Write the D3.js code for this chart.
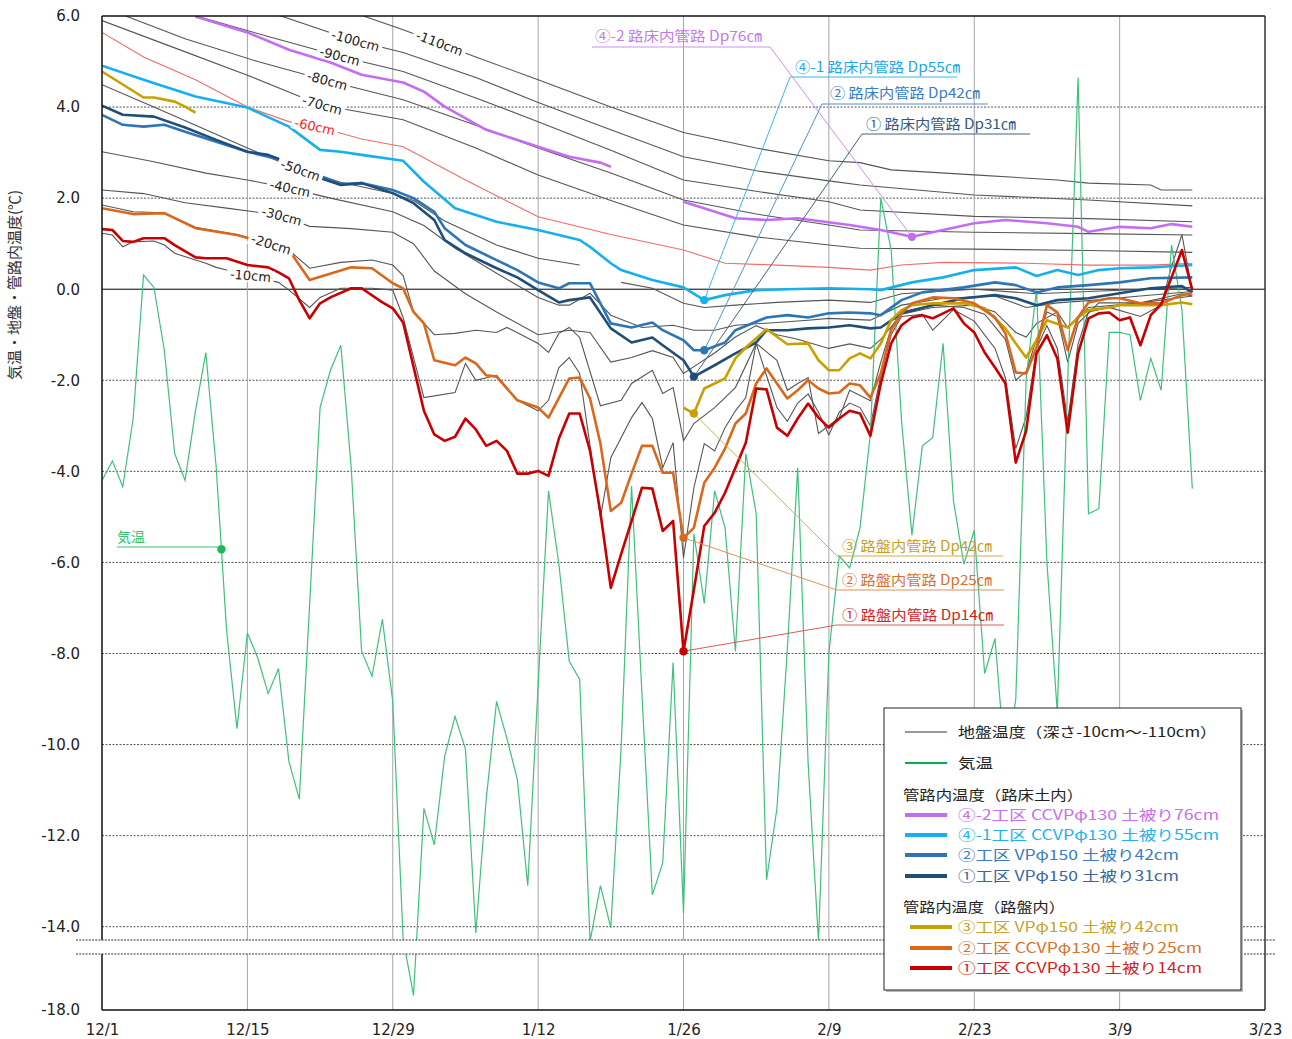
<!DOCTYPE html>
<html><head><meta charset="utf-8">
<script src="https://cdn.jsdelivr.net/npm/d3@7"></script>
<style>
body{margin:0;background:#fff;}
svg{display:block;}
</style></head><body>
<svg id="chart" width="1292" height="1039"></svg>
<script>
// ---- data -------------------------------------------------------------
const startYear = 2018;                       // season starts 1 Dec
const xTickLabels = ["12/1","12/15","12/29","1/12","1/26","2/9","2/23","3/9","3/23"];
const yTickValues = [6,4,2,0,-2,-4,-6,-8,-10,-12,-14,-18];
const yTickLabels = ["6.0","4.0","2.0","0.0","-2.0","-4.0","-6.0","-8.0","-10.0","-12.0","-14.0","-18.0"];

// daily mean air temperature from 12/1 (℃)
const airTemp = [-4.2,-3.77,-4.34,-2.84,0.31,0.04,-1.34,-3.61,-4.2,-2.67,
  -1.39,-3.92,-7.5,-9.65,-7.55,-8.1,-8.88,-8.33,-10.37,-11.2,
  -6.9,-2.6,-1.78,-1.23,-3.92,-7.95,-8.5,-7.25,-9.05,-14.6,
  -17.3,-11.4,-12.2,-10.26,-9.38,-10.1,-14.3,-11.2,-9.05,-9.87,
  -10.77,-13.1,-8.7,-4.43,-6.04,-8.17,-8.57,-14.7,-13.1,-14.05,
  -10.04,-4.32,-8.9,-13.3,-12.6,-8.2,-13.7,-5.37,-6.9,-4.43,
  -5.24,-7.95,-3.61,-4.93,-12.97,-11.4,-7.9,-3.92,-10.4,-14.7,
  -8.0,-5.86,-6.12,-5.24,-3.17,2.0,0.86,-2.9,-5.4,-3.44,
  -3.26,-1.19,-4.65,-6.04,-5.3,-8.44,-7.67,-10.5,-9.0,-1.96,
  0.0,-6.0,-9.3,-2.0,4.65,-4.93,-4.82,-0.95,-0.95,-1.0,
  -2.44,-1.52,-2.22,0.97,-0.46,-4.38];

// ground temperature by depth: [day from 12/1, ℃]; null = missing
const ground10 = [[0,1.23],[1,1.19],[2,0.93],[3,1.04],[5,1.06],[6,0.97],[7,0.79],[9,0.64],[10,0.57],[11,0.48],[12,0.42],[17,0.15],[18,-0.02],[20,-0.4],[21,-0.18],[23,0.02],[26,0.02],[28,-0.02],[29,-0.62],[31,-2.38],[34,-2.27],[35,-1.63],[36,-2.0],[38,-1.89],[40,-2.44],[42,-2.67],[43,-2.44],[44,-1.72],[45,-1.5],[46,-1.85],[48,-5.02],[49,-3.7],[51,-2.82],[52,-2.49],[53,-2.84],[54,-3.92],[55,-3.37],[56,-5.9],[57,-4.36],[58,-3.39],[59,-3.55],[60,-3.04],[61,-2.67],[62,-2.38],[63,-1.19],[64,-1.9],[65,-2.6],[66,-2.9],[67,-2.5],[68,-2.3],[69,-2.7],[70,-3.2],[71,-2.7],[72,-2.5],[73,-2.6],[74,-3.0],[75,-1.9],[76,-1.0],[77,-0.6],[79,-0.55],[80,-0.9],[82,-0.45],[84,-0.7],[86,-1.3],[87,-1.95],[88,-3.5],[89,-2.8],[90,-1.3],[91,-0.8],[92,-1.3],[93,-2.9],[94,-1.2],[95,-0.5],[97,-0.4],[100,-0.6],[102,-0.35],[103,0.5],[104,1.2],[105,-0.05]];
const ground20 = [[0,1.85],[3,1.7],[6,1.68],[9,1.36],[13,1.2],[15,1.08],[18,0.86],[20,0.46],[23,0.59],[26,0.64],[28,0.53],[29,0.3],[30,-0.5],[32,-1.0],[34,-0.97],[36,-0.9],[38,-0.95],[39,-0.84],[42,-1.19],[43,-1.39],[44,-0.97],[45,-0.84],[46,-1.06],[48,-2.56],[50,-2.44],[51,-2.07],[53,-1.78],[54,-2.29],[55,-2.16],[56,-3.33],[57,-2.95],[59,-2.6],[61,-2.16],[63,-1.19],[65,-1.56],[66,-2.22],[67,-2.07],[68,-1.94],[69,-3.17],[71,-2.82],[72,-2.22],[74,-2.45],[75,-1.6],[76,-0.85],[77,-0.5],[80,-0.35],[83,-0.4],[85,-0.55],[87,-1.1],[88,-2.0],[89,-1.8],[90,-1.1],[91,-0.5],[92,-0.6],[93,-1.6],[94,-0.75],[96,-0.3],[100,-0.3],[104,-0.1],[105,-0.15]];
const ground30 = [[0,2.18],[4,2.1],[8,1.9],[12,1.78],[17,1.63],[20,1.38],[24,1.33],[28,1.25],[30,1.0],[32,0.4],[35,-0.1],[38,-0.5],[42,-1.0],[45,-0.9],[47,-0.95],[49,-1.6],[51,-1.5],[53,-1.35],[55,-1.5],[56,-1.85],[57,-1.7],[59,-1.4],[61,-1.05],[63,-0.8],[65,-1.0],[67,-1.1],[70,-1.3],[72,-1.2],[74,-1.3],[75,-1.1],[77,-0.55],[80,-0.4],[84,-0.35],[86,-0.5],[88,-0.95],[89,-1.05],[90,-0.75],[92,-0.5],[93,-0.85],[95,-0.4],[100,-0.3],[105,-0.15]];
const ground40 = [[0,3.02],[5,2.8],[10,2.55],[14,2.4],[18,2.22],[22,2.0],[28,1.7],[31,1.4],[34,0.9],[38,0.35],[42,-0.18],[44,-0.35],[45,-0.35],[47,-0.09],[49,-0.57],[52,-0.84],[55,-0.79],[57,-0.9],[59,-0.9],[61,-0.79],[65,-0.73],[68,-0.68],[70,-0.64],[74,-0.68],[77,-0.35],[81,-0.2],[86,-0.15],[89,-0.4],[92,-0.3],[95,-0.25],[100,-0.15],[105,-0.05]];
const ground50 = [[0,4.49],[5,4.0],[10,3.5],[14,3.1],[19,2.62],[23,2.35],[28,2.1],[30,1.95],[33,1.5],[38,0.97],[42,0.68],[46,0.53],[47,null],[50,0.15],[53,0.02],[56,-0.31],[58,-0.4],[61,-0.35],[65,-0.29],[70,-0.24],[74,-0.29],[77,-0.1],[84,0.0],[90,-0.1],[95,-0.05],[105,0.04]];
const ground60 = [[0,5.64],[4,5.1],[9,4.6],[14,4.0],[18,3.68],[21,3.55],[25,3.3],[29,3.13],[35,2.4],[42,1.59],[49,1.2],[56,0.86],[60,0.57],[65,0.53],[70,0.48],[74,0.42],[77,0.53],[81,0.59],[89,0.57],[95,0.53],[101,0.53],[105,0.57]];
const ground70 = [[0,5.9],[7,5.3],[14,4.7],[21,4.05],[29,3.72],[36,3.1],[42,2.51],[49,1.95],[56,1.41],[63,1.15],[70,0.97],[73,0.9],[84,0.88],[95,0.85],[105,0.81]];
const ground80 = [[0,6.2],[8,5.5],[15,5.0],[22,4.56],[29,4.16],[36,3.6],[42,3.1],[49,2.55],[56,1.96],[63,1.65],[70,1.41],[73,1.3],[84,1.25],[95,1.22],[105,1.19]];
const ground90 = [[6,6.2],[16,5.55],[23,5.11],[29,4.78],[36,4.2],[42,3.68],[49,3.05],[56,2.4],[63,2.15],[70,1.92],[73,1.74],[84,1.6],[95,1.55],[105,1.48]];
const ground100 = [[14,6.25],[24,5.48],[29,5.2],[36,4.65],[42,4.1],[49,3.5],[56,2.91],[63,2.6],[70,2.38],[73,2.29],[84,2.07],[95,1.96],[105,1.83]];
const ground110 = [[22,6.25],[29,5.7],[36,5.1],[42,4.6],[49,4.0],[56,3.44],[63,3.1],[70,2.82],[73,2.78],[76,2.62],[84,2.51],[92,2.4],[95,2.33],[101,2.29],[102,2.18],[105,2.18]];

// pipe interior temperature, subgrade (路床土内)
const pipeSub76 = [[9,5.99],[14,5.64],[18,5.26],[22,4.98],[25,4.71],[29,4.54],[31,4.34],[33,4.01],[37,3.5],[42,3.13],[45,2.91],[48,2.78],[49,2.69],[50,null],[56,1.92],[61,1.56],[64,1.52],[67,1.56],[72,1.41],[75,1.3],[78,1.15],[81,1.3],[84,1.45],[87,1.52],[91,1.45],[94,1.37],[95,1.26],[98,1.37],[101,1.34],[103,1.43],[105,1.37]];
const pipeSub55 = [[0,4.91],[4,4.6],[9,4.23],[14,3.99],[18,3.57],[21,3.06],[23,3.02],[25,2.95],[29,2.82],[31,2.36],[34,1.78],[38,1.48],[42,1.3],[46,1.08],[47,0.93],[49,0.57],[50,0.42],[53,0.2],[56,0.04],[58,-0.24],[60,-0.13],[63,-0.02],[66,0.0],[70,0.02],[74,0.0],[75,-0.02],[78,0.15],[81,0.26],[84,0.42],[88,0.48],[90,0.29],[92,0.42],[94,0.31],[96,0.42],[98,0.46],[101,0.48],[105,0.53]];
const pipeSub42 = [[0,3.83],[2,3.61],[4,3.57],[6,3.61],[8,3.46],[11,3.24],[14,3.02],[18,2.8],[21,2.49],[23,2.31],[25,2.33],[28,2.18],[30,2.0],[32,1.7],[33,1.34],[35,0.97],[38,0.64],[40,0.42],[42,0.15],[44,0.02],[45,0.13],[47,0.13],[49,-0.75],[51,-0.84],[53,-0.73],[54,-0.9],[56,-1.12],[57,-1.34],[58,-1.34],[60,-1.17],[61,-0.9],[64,-0.62],[66,-0.57],[68,-0.62],[70,-0.53],[72,-0.51],[74,-0.53],[75,-0.57],[77,-0.24],[79,-0.07],[83,0.04],[86,0.15],[88,0.09],[90,-0.07],[92,0.04],[95,0.09],[98,0.15],[101,0.24],[105,0.26]];
const pipeSub31 = [[0,4.03],[2,3.83],[5,3.79],[8,3.55],[11,3.28],[14,3.02],[16,2.95],[18,2.78],[21,2.44],[23,2.29],[25,2.33],[28,2.11],[30,1.89],[32,1.52],[33,1.08],[35,0.79],[38,0.46],[40,0.26],[42,-0.02],[44,-0.29],[45,-0.24],[47,-0.18],[49,-0.86],[51,-1.17],[53,-1.06],[54,-1.23],[56,-1.56],[57,-1.92],[59,-1.67],[61,-1.41],[63,-1.17],[64,-0.9],[66,-0.9],[68,-0.86],[70,-0.84],[72,-0.79],[74,-0.86],[75,-0.84],[77,-0.53],[80,-0.35],[83,-0.2],[86,-0.13],[88,-0.2],[90,-0.35],[92,-0.24],[95,-0.2],[98,-0.09],[101,0.02],[104,0.07],[105,-0.07]];

// pipe interior temperature, base course (路盤内)
const pipeBase42 = [[0,4.78],[1.7,4.54],[4,4.21],[5,4.21],[7,4.12],[8,4.01],[9,3.88],[10,null],[56,-2.6],[57,-2.73],[58,-2.18],[60,-1.96],[61,-1.52],[62,-1.28],[64,-0.88],[66,-1.21],[68,-1.19],[69,-1.56],[70,-1.78],[71,-1.78],[72,-1.52],[73,-1.41],[74,-1.52],[75,-1.19],[76,-0.68],[77,-0.46],[78,-0.35],[80,-0.31],[83,-0.31],[85,-0.42],[87,-0.86],[88,-1.19],[89,-1.5],[90,-1.12],[91,-0.68],[93,-0.84],[94,-0.62],[95,-0.46],[97,-0.4],[98,-0.35],[100,-0.35],[102,-0.35],[104,-0.29],[105,-0.33]];
const pipeBase25 = [[0,1.78],[3,1.65],[6,1.67],[9,1.34],[13,1.19],[15,1.06],[18,0.86],[20,0.2],[24,0.48],[26,0.46],[28,0.13],[29,0.02],[30,-0.5],[31,-0.75],[32,-1.56],[34,-1.67],[35,-1.5],[36,-1.63],[37,-1.89],[38,-1.92],[40,-2.44],[42,-2.6],[43,-2.82],[45,-1.96],[46,-1.94],[47,-2.4],[48,-3.39],[49,-4.87],[50,-4.69],[51,-4.05],[52,-3.44],[53,-3.44],[54,-4.03],[55,-4.03],[56,-5.46],[57,-5.24],[58,-4.25],[59,-3.92],[60,-3.5],[61,-2.95],[62,-2.73],[63,-2.07],[64,-1.74],[65,-2.07],[66,-2.4],[67,-2.22],[68,-2.0],[69,-2.18],[70,-2.29],[71,-2.27],[72,-2.07],[73,-2.11],[74,-2.38],[75,-1.85],[76,-0.9],[77,-0.53],[78,-0.31],[80,-0.18],[82,-0.2],[84,-0.31],[86,-0.62],[87,-0.97],[88,-1.83],[89,-1.85],[90,-1.28],[91,-0.35],[92,-0.51],[93,-1.34],[94,-0.62],[95,-0.29],[97,-0.2],[98,-0.2],[100,-0.31],[102,-0.31],[104,-0.13],[105,-0.09]];
const pipeBase14 = [[0,1.32],[1,1.3],[2,1.06],[3,1.04],[4,1.12],[6,1.12],[7,0.97],[9,0.7],[10,0.68],[12,0.68],[14,0.53],[16,0.48],[17,0.37],[18,0.24],[19,-0.24],[20,-0.64],[21,-0.31],[22,-0.18],[24,0.02],[25,0.02],[27,-0.29],[28,-0.42],[29,-0.73],[30,-1.7],[31,-2.67],[32,-3.19],[33,-3.33],[34,-3.24],[35,-2.84],[36,-3.08],[37,-3.44],[38,-3.33],[39,-3.55],[40,-4.05],[41,-4.05],[42,-3.99],[43,-4.1],[44,-3.28],[45,-2.73],[46,-2.73],[47,-3.55],[48,-4.91],[49,-6.56],[50,-5.81],[51,-5.09],[52,-4.36],[53,-4.38],[54,-5.31],[55,-5.09],[56,-7.95],[57,-6.6],[58,-5.2],[59,-4.91],[60,-4.47],[61,-3.92],[62,-3.37],[63,-2.18],[64,-2.2],[65,-3.04],[66,-3.22],[67,-2.84],[68,-2.51],[69,-2.82],[70,-3.04],[71,-2.84],[72,-2.67],[73,-2.73],[74,-3.22],[75,-2.07],[76,-1.19],[77,-0.79],[78,-0.62],[79,-0.57],[80,-0.64],[81,-0.53],[82,-0.42],[83,-0.75],[84,-0.95],[85,-1.39],[86,-1.72],[87,-2.07],[88,-3.81],[89,-3.11],[90,-1.41],[91,-1.01],[92,-1.52],[93,-3.15],[94,-1.41],[95,-0.64],[96,-0.53],[97,-0.51],[98,-0.68],[99,-0.62],[100,-1.23],[101,-0.57],[102,-0.33],[103,0.26],[104,0.86],[105,-0.02]];

// ---- layout -------------------------------------------------------------
const svg = d3.select("#chart");
const L = 102, R = 1265, T = 16, B = 1010;
const jpFont = "'Noto Sans CJK JP','Noto Sans',sans-serif";
const numFont = "'DejaVu Sans',Verdana,sans-serif";

const parseTick = s => { const [m,d] = s.split("/").map(Number); return new Date(m >= 12 ? startYear : startYear + 1, m - 1, d); };
const day0 = parseTick("12/1");
const dayDate = d => new Date(day0.getTime() + d * 864e5);

const x = d3.scaleTime().domain([parseTick("12/1"), parseTick("3/23")]).range([L, R]);
// axis is broken below -14: the last 4 degrees are compressed
const y = d3.scaleLinear().domain([-18, -14, 6]).range([B, 926.7, T]);

const px = p => x(dayDate(p[0]));
const py = p => y(p[1]);
const line = d3.line().defined(p => p[1] != null).x(px).y(py);
const airPairs = airTemp.map((v, i) => [i, v]);

function valueAt(series, day) {
  for (let i = 0; i < series.length - 1; i++) {
    const a = series[i], b = series[i + 1];
    if (a[1] == null || b[1] == null) continue;
    if (day >= a[0] && day <= b[0]) return a[1] + (b[1] - a[1]) * (day - a[0]) / (b[0] - a[0]);
  }
  return null;
}
const pointAt = (s, d) => [x(dayDate(d)), y(valueAt(s, d))];

svg.append("defs").append("clipPath").attr("id", "plot")
  .append("rect").attr("x", L).attr("y", T).attr("width", R - L).attr("height", B - T);

// ---- grid -------------------------------------------------------------
const grid = svg.append("g");
yTickValues.filter(v => v < 6 && v > -18).forEach(v => {
  grid.append("line").attr("x1", L).attr("x2", R).attr("y1", y(v)).attr("y2", y(v))
    .attr("stroke", v === 0 ? "#000" : "#555").attr("stroke-width", 1)
    .attr("stroke-dasharray", v === 0 ? null : "2,1.5");
});
xTickLabels.slice(1, -1).forEach(t => {
  grid.append("line").attr("x1", x(parseTick(t))).attr("x2", x(parseTick(t)))
    .attr("y1", T).attr("y2", B).attr("stroke", "#a6a6a6").attr("stroke-width", 1);
});

// ---- ground temperature lines -----------------------------------------
const plot = svg.append("g").attr("clip-path", "url(#plot)");
const groundSeries = [
  {data: ground110, label: "-110cm", at: 32.5},
  {data: ground100, label: "-100cm", at: 24.4},
  {data: ground90,  label: "-90cm",  at: 22.9},
  {data: ground80,  label: "-80cm",  at: 21.7},
  {data: ground70,  label: "-70cm",  at: 21.2},
  {data: ground60,  label: "-60cm",  at: 20.5, color: "#f26b6b", text: "#ff1a1a"},
  {data: ground50,  label: "-50cm",  at: 19.1},
  {data: ground40,  label: "-40cm",  at: 18.1},
  {data: ground30,  label: "-30cm",  at: 17.3},
  {data: ground20,  label: "-20cm",  at: 16.3},
  {data: ground10,  label: "-10cm",  at: 14.3, tilt: 5}
];
groundSeries.forEach(s => {
  plot.append("path").attr("d", line(s.data)).attr("fill", "none")
    .attr("stroke", s.color || "#555").attr("stroke-width", 1.1);
});

// depth labels sitting on their lines
const labelLayer = svg.append("g");
groundSeries.forEach(s => {
  const [cx, cy] = pointAt(s.data, s.at);
  const [ax, ay] = pointAt(s.data, s.at - 1.5);
  const [bx, by] = pointAt(s.data, s.at + 1.5);
  const ang = s.tilt != null ? s.tilt : Math.atan2(by - ay, bx - ax) * 180 / Math.PI;
  const g = labelLayer.append("g").attr("transform", `translate(${cx},${cy}) rotate(${ang})`);
  const t = g.append("text").text(s.label).attr("text-anchor", "middle").attr("dy", "0.35em")
    .attr("font-family", numFont).attr("font-size", 13).attr("fill", s.text || "#222");
  const bb = t.node().getBBox();
  g.insert("rect", "text").attr("x", bb.x - 3).attr("y", bb.y + 1).attr("width", bb.width + 6)
    .attr("height", bb.height - 2).attr("fill", "#fff");
});

// ---- air temperature ---------------------------------------------------
plot.append("path").attr("d", line(airPairs)).attr("fill", "none")
  .attr("stroke", "#41bf7c").attr("stroke-width", 1.2);

// ---- pipe series -------------------------------------------------------
const pipes = [
  {data: pipeSub76,  color: "#c46cf2"},
  {data: pipeSub55,  color: "#17b0ec"},
  {data: pipeSub42,  color: "#2e75b6"},
  {data: pipeSub31,  color: "#1f4e79"},
  {data: pipeBase42, color: "#c9a000"},
  {data: pipeBase25, color: "#d9681c"},
  {data: pipeBase14, color: "#c80000"}
];
pipes.forEach(s => {
  plot.append("path").attr("d", line(s.data)).attr("fill", "none")
    .attr("stroke", s.color).attr("stroke-width", 2.6).attr("stroke-linejoin", "round");
});

// ---- callouts ----------------------------------------------------------
const callouts = [
  {text: "④-2 路床内管路 Dp76㎝", data: pipeSub76, day: 78, color: "#c47be6", lead: "#cf90ee", dot: "#c46cf2", tx: 595, ty: 41, w: 167, u1: 592, u2: 770, uy: 47, from: "right"},
  {text: "④-1 路床内管路 Dp55㎝", data: pipeSub55, day: 58, color: "#1aa9e4", lead: "#3cb6ea", dot: "#17b0ec", tx: 795, ty: 72, w: 165, u1: 790, u2: 957, uy: 77, from: "left"},
  {text: "② 路床内管路 Dp42㎝", data: pipeSub42, day: 58, color: "#3a7cbf", lead: "#5b8fc6", dot: "#2e75b6", tx: 830, ty: 98, w: 150, u1: 822, u2: 988, uy: 104, from: "left"},
  {text: "① 路床内管路 Dp31㎝", data: pipeSub31, day: 57, color: "#34597f", lead: "#44617f", dot: "#1f4e79", tx: 866, ty: 129, w: 150, u1: 862, u2: 1030, uy: 134, from: "left"},
  {text: "③ 路盤内管路 Dp42㎝", data: pipeBase42, day: 57, color: "#c8a024", lead: "#d2ae4a", dot: "#c9a000", tx: 842, ty: 551, w: 150, u1: 837, u2: 1003, uy: 556, from: "left"},
  {text: "② 路盤内管路 Dp25㎝", data: pipeBase25, day: 56, color: "#d7722a", lead: "#e0905a", dot: "#d9681c", tx: 842, ty: 585, w: 150, u1: 837, u2: 1004, uy: 590, from: "left"},
  {text: "① 路盤内管路 Dp14㎝", data: pipeBase14, day: 56, color: "#d42222", lead: "#e05a5a", dot: "#c80000", tx: 842, ty: 620, w: 151, u1: 837, u2: 1004, uy: 625, from: "left"},
  {text: "気温", data: airPairs, day: 11.5, color: "#3cbf78", lead: "#3cbf78", dot: "#1db954", tx: 117, ty: 542, w: 28, u1: 117, u2: null, uy: 547, from: "right"}
];
const co = svg.append("g");
callouts.forEach(c => {
  const [dx, dy] = pointAt(c.data, c.day);
  const u2 = c.u2 == null ? dx : c.u2;
  const sx = c.from === "right" ? u2 : c.u1;
  co.append("line").attr("x1", c.u1).attr("x2", u2).attr("y1", c.uy).attr("y2", c.uy)
    .attr("stroke", c.lead).attr("stroke-width", 1.2);
  co.append("line").attr("x1", sx).attr("y1", c.uy).attr("x2", dx).attr("y2", dy)
    .attr("stroke", c.lead).attr("stroke-width", 1);
  co.append("circle").attr("cx", dx).attr("cy", dy).attr("r", 4.2).attr("fill", c.dot);
  co.append("text").attr("x", c.tx).attr("y", c.ty).text(c.text)
    .attr("textLength", c.w).attr("lengthAdjust", "spacingAndGlyphs")
    .attr("font-family", jpFont).attr("font-size", 14).attr("fill", c.color);
});

// ---- axis break band ---------------------------------------------------
const brk = svg.append("g");
brk.append("rect").attr("x", 76).attr("y", 940).attr("width", 1200).attr("height", 14).attr("fill", "#fff");
[940, 954].forEach(v => brk.append("line").attr("x1", 76).attr("x2", 1276).attr("y1", v).attr("y2", v)
  .attr("stroke", "#333").attr("stroke-width", 1).attr("stroke-dasharray", "2,1.2"));

// ---- axes --------------------------------------------------------------
const frame = svg.append("g");
frame.append("line").attr("x1", L).attr("x2", R).attr("y1", T).attr("y2", T).attr("stroke", "#111").attr("stroke-width", 1.5);
frame.append("line").attr("x1", R).attr("x2", R).attr("y1", T).attr("y2", B).attr("stroke", "#333").attr("stroke-width", 1.5);
frame.append("line").attr("x1", L).attr("x2", L).attr("y1", T).attr("y2", 940).attr("stroke", "#111").attr("stroke-width", 1.5);
frame.append("line").attr("x1", L).attr("x2", L).attr("y1", 954).attr("y2", B).attr("stroke", "#111").attr("stroke-width", 1.5);
frame.append("line").attr("x1", L).attr("x2", R).attr("y1", B).attr("y2", B).attr("stroke", "#111").attr("stroke-width", 1.5);

const yAxis = svg.append("g").attr("transform", `translate(${L},0)`)
  .call(d3.axisLeft(y).tickValues(yTickValues).tickFormat((d, i) => yTickLabels[i]).tickSize(0).tickPadding(22));
yAxis.select(".domain").remove();
yAxis.selectAll("text").attr("font-family", numFont).attr("font-size", 15).attr("fill", "#222");

const xAxis = svg.append("g").attr("transform", `translate(0,${B})`)
  .call(d3.axisBottom(x).tickValues(xTickLabels.map(parseTick)).tickFormat((d, i) => xTickLabels[i]).tickSize(0).tickPadding(14));
xAxis.select(".domain").remove();
xAxis.selectAll("text").attr("font-family", numFont).attr("font-size", 15).attr("fill", "#222");

svg.append("text").attr("transform", "translate(20,285) rotate(-90)").attr("text-anchor", "middle")
  .attr("font-family", jpFont).attr("font-size", 15).attr("fill", "#333").text("気温・地盤・管路内温度(℃)");

// ---- legend ------------------------------------------------------------
const lg = svg.append("g");
lg.append("rect").attr("x", 886).attr("y", 710).attr("width", 357).attr("height", 282).attr("fill", "#bbb");
lg.append("rect").attr("x", 884).attr("y", 708).attr("width", 357).attr("height", 282)
  .attr("fill", "#fff").attr("stroke", "#222").attr("stroke-width", 1);
const legendRows = [
  {y: 732, color: "#777", w: 1.6, text: "地盤温度（深さ-10cm～-110cm）", tc: "#222", len: 259},
  {y: 763, color: "#00b050", w: 2, text: "気温", tc: "#222", len: 35},
  {y: 795, head: "管路内温度（路床土内）", len: 180},
  {y: 815, color: "#c46cf2", w: 4, text: "④-2工区 CCVPφ130 土被り76cm", tc: "#c86ef0", len: 261},
  {y: 835, color: "#17b0ec", w: 4, text: "④-1工区 CCVPφ130 土被り55cm", tc: "#1db4ec", len: 261},
  {y: 855, color: "#2e75b6", w: 4, text: "②工区 VPφ150 土被り42cm", tc: "#3a7cbf", len: 221},
  {y: 876, color: "#1f4e79", w: 4, text: "①工区 VPφ150 土被り31cm", tc: "#3a679a", len: 221},
  {y: 907, head: "管路内温度（路盤内）", len: 162},
  {y: 927, color: "#c9a000", w: 4, text: "③工区 VPφ150 土被り42cm", tc: "#c9a227", x0: 910, len: 221},
  {y: 948, color: "#d9681c", w: 4, text: "②工区 CCVPφ130 土被り25cm", tc: "#d7722a", x0: 910, len: 244},
  {y: 968, color: "#c80000", w: 4, text: "①工区 CCVPφ130 土被り14cm", tc: "#d42222", x0: 910, len: 244}
];
legendRows.forEach(r => {
  const tx = r.head ? 903 : 958;
  if (!r.head) {
    const x0 = r.x0 || 905;
    lg.append("line").attr("x1", x0).attr("x2", x0 + 42).attr("y1", r.y).attr("y2", r.y)
      .attr("stroke", r.color).attr("stroke-width", r.w);
  }
  lg.append("text").attr("x", tx).attr("y", r.y).attr("dy", "0.36em").text(r.head || r.text)
    .attr("textLength", r.len).attr("lengthAdjust", "spacingAndGlyphs")
    .attr("font-family", jpFont).attr("font-size", 13.8).attr("fill", r.tc || "#222");
});
</script>
</body></html>
